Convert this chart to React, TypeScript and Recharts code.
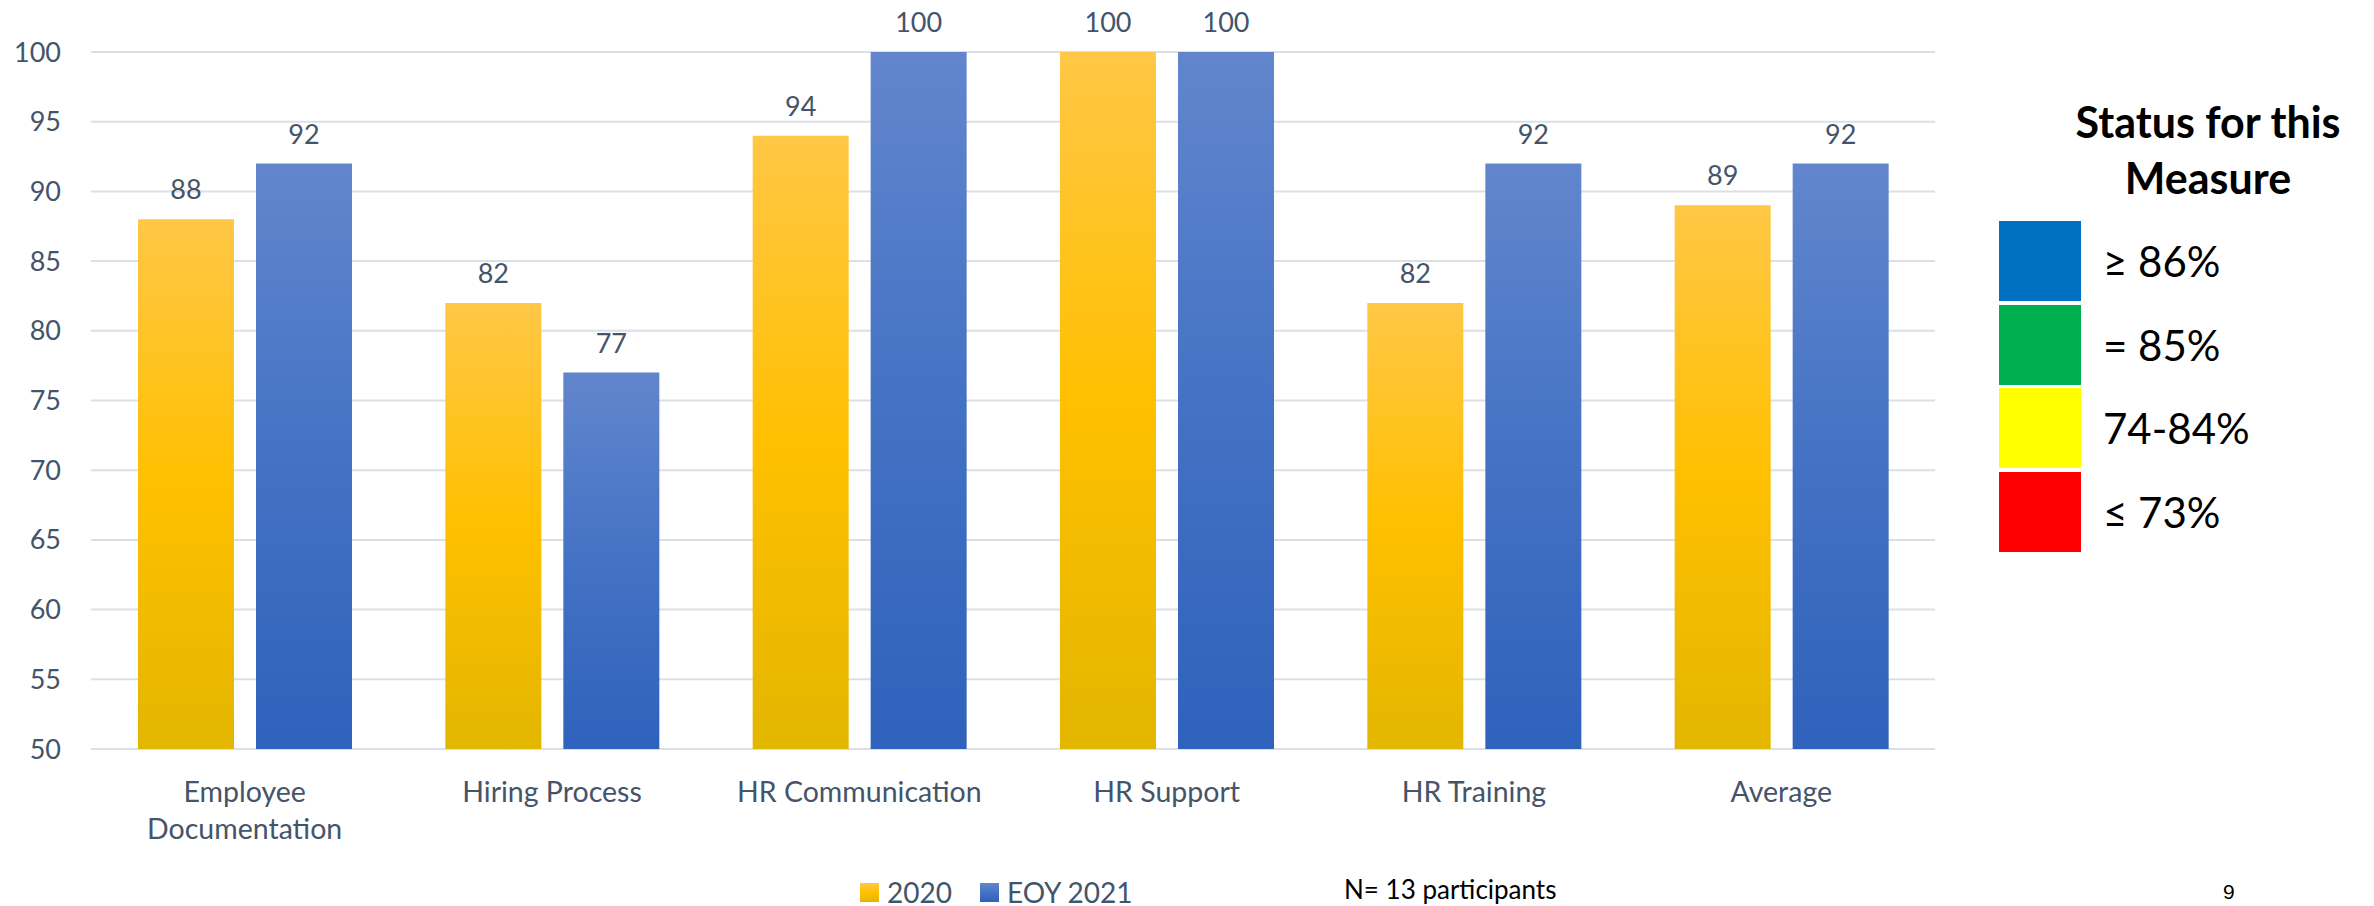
import React from "react";
import {
  BarChart,
  Bar,
  XAxis,
  YAxis,
  CartesianGrid,
  Legend,
  LabelList,
} from "recharts";

const categories = [
  "Employee Documentation",
  "Hiring Process",
  "HR Communication",
  "HR Support",
  "HR Training",
  "Average",
];
const values2020 = [88, 82, 94, 100, 82, 89];
const valuesEoy2021 = [92, 77, 100, 100, 92, 92];
const yTicks = [50, 55, 60, 65, 70, 75, 80, 85, 90, 95, 100];

const statusColors = ["#0070C0", "#00B050", "#FFFF00", "#FF0000"];
const statusLabels = ["≥ 86%", "= 85%", "74-84%", "≤ 73%"];

const data = categories.map((name, i) => ({
  name,
  y2020: values2020[i],
  eoy2021: valuesEoy2021[i],
}));

const FONT = "Lato, 'Open Sans', sans-serif";
const TEXT = "#44546A";

function CategoryTick({ x, y, payload }: any) {
  const label: string = payload.value;
  // long names go on two lines like the original
  const lines = label.length > 18 ? label.split(" ") : [label];
  return (
    <text
      x={x}
      y={y}
      textAnchor="middle"
      fill={TEXT}
      fontSize={28.5}
      fontFamily={FONT}
    >
      {lines.map((line, i) => (
        <tspan key={i} x={x} dy={i === 0 ? 53 : 37}>
          {line}
        </tspan>
      ))}
    </text>
  );
}

function SeriesLegend() {
  const items = [
    { label: "2020", bg: "linear-gradient(#FFC746, #FFC000 50%, #E3B600)" },
    { label: "EOY 2021", bg: "linear-gradient(#6286CD, #4472C4 50%, #2F62BC)" },
  ];
  return (
    <div style={{ display: "flex", alignItems: "center", gap: 28 }}>
      {items.map((it) => (
        <div key={it.label} style={{ display: "flex", alignItems: "center" }}>
          <span
            style={{ width: 19, height: 19, background: it.bg, marginRight: 8 }}
          />
          <span
            style={{
              fontSize: 28,
              lineHeight: "24px",
              color: TEXT,
              fontFamily: FONT,
            }}
          >
            {it.label}
          </span>
        </div>
      ))}
    </div>
  );
}

export default function App() {
  return (
    <div
      style={{
        position: "absolute",
        left: 0,
        top: 0,
        width: 2374,
        height: 906,
        background: "#fff",
        fontFamily: FONT,
      }}
    >
      <BarChart
        width={1960}
        height={906}
        data={data}
        margin={{ top: 52, right: 25, left: 0, bottom: 0 }}
        barSize={96}
        barGap={22}
      >
        <defs>
          <linearGradient id="gradYellow" x1="0" y1="0" x2="0" y2="1">
            <stop offset="0%" stopColor="#FFC746" />
            <stop offset="50%" stopColor="#FFC000" />
            <stop offset="100%" stopColor="#E3B600" />
          </linearGradient>
          <linearGradient id="gradBlue" x1="0" y1="0" x2="0" y2="1">
            <stop offset="0%" stopColor="#6286CD" />
            <stop offset="50%" stopColor="#4472C4" />
            <stop offset="100%" stopColor="#2F62BC" />
          </linearGradient>
        </defs>
        <CartesianGrid vertical={false} stroke="#DCDFE6" strokeWidth={2} />
        <XAxis
          dataKey="name"
          axisLine={false}
          tickLine={false}
          tickSize={0}
          tickMargin={0}
          height={157}
          interval={0}
          tick={<CategoryTick />}
        />
        <YAxis
          domain={[50, 100]}
          ticks={yTicks}
          axisLine={false}
          tickLine={false}
          tickSize={0}
          tickMargin={30}
          width={91}
          tick={{ fontSize: 27, fill: TEXT, fontFamily: FONT }}
        />
        <Legend
          layout="horizontal"
          verticalAlign="middle"
          align="center"
          wrapperStyle={{ top: 880, left: 860, width: "auto" }}
          content={<SeriesLegend />}
        />
        <Bar dataKey="y2020" fill="url(#gradYellow)" isAnimationActive={false}>
          <LabelList
            dataKey="y2020"
            position="top"
            offset={20}
            fill={TEXT}
            fontSize={27}
            fontFamily={FONT}
          />
        </Bar>
        <Bar dataKey="eoy2021" fill="url(#gradBlue)" isAnimationActive={false}>
          <LabelList
            dataKey="eoy2021"
            position="top"
            offset={20}
            fill={TEXT}
            fontSize={27}
            fontFamily={FONT}
          />
        </Bar>
      </BarChart>

      <div
        style={{
          position: "absolute",
          left: 1344,
          top: 874,
          fontSize: 26,
          lineHeight: "30px",
          color: "#000",
          whiteSpace: "nowrap",
        }}
      >
        N= 13 participants
      </div>

      <div
        style={{
          position: "absolute",
          left: 2223,
          top: 880,
          fontSize: 21,
          color: "#000",
          fontFamily: "'Liberation Sans', Arial, sans-serif",
        }}
      >
        9
      </div>

      <div
        style={{
          position: "absolute",
          left: 2040,
          top: 94,
          width: 336,
          textAlign: "center",
          fontWeight: 700,
          fontSize: 43,
          lineHeight: "56px",
          color: "#000",
        }}
      >
        Status for this
        <br />
        Measure
      </div>

      {statusColors.map((c, i) => (
        <div
          key={c}
          style={{
            position: "absolute",
            left: 1999,
            top: 221 + i * 83.5,
            height: 80,
            display: "flex",
            alignItems: "center",
          }}
        >
          <div style={{ width: 82, height: 80, background: c }} />
          <div
            style={{
              marginLeft: 22,
              fontSize: 42,
              color: "#000",
              whiteSpace: "nowrap",
            }}
          >
            {statusLabels[i]}
          </div>
        </div>
      ))}
    </div>
  );
}
